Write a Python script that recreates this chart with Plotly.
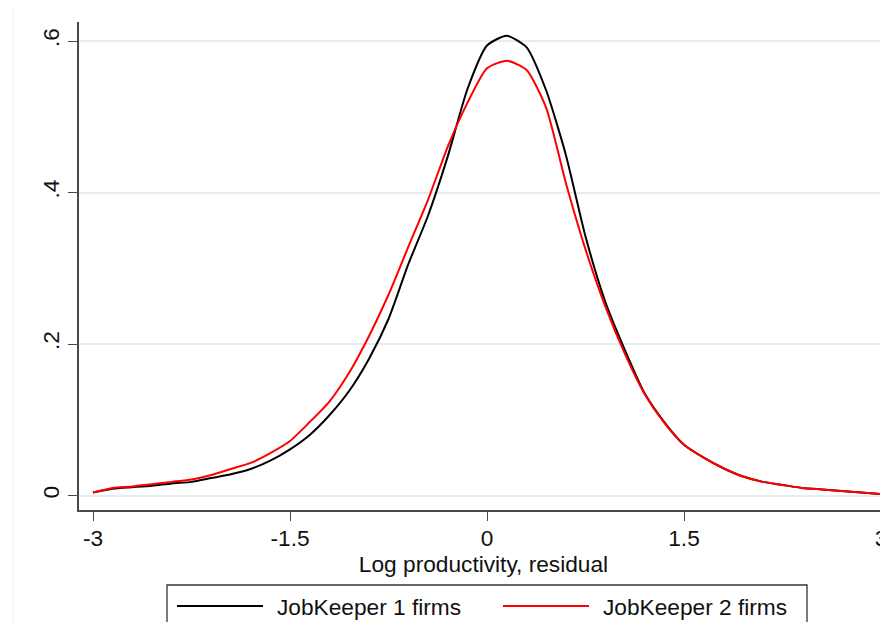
import plotly.graph_objects as go

# ---- data ----
x_grid = [-3.00, -2.85, -2.70, -2.55, -2.40, -2.25, -2.10, -1.95, -1.80, -1.65,
          -1.50, -1.35, -1.20, -1.05, -0.90, -0.75, -0.60, -0.45, -0.30, -0.15,
          0.00, 0.15, 0.30, 0.45, 0.60, 0.75, 0.90, 1.05, 1.20, 1.35,
          1.50, 1.65, 1.80, 1.95, 2.10, 2.25, 2.40, 2.55, 2.70, 2.85, 3.00]

jk1_density = [0.004, 0.009, 0.011, 0.013, 0.016, 0.018, 0.023, 0.028, 0.035, 0.046,
               0.061, 0.080, 0.106, 0.138, 0.180, 0.233, 0.305, 0.369, 0.447, 0.536,
               0.594, 0.607, 0.592, 0.535, 0.450, 0.342, 0.256, 0.192, 0.135, 0.097,
               0.067, 0.050, 0.036, 0.025, 0.018, 0.014, 0.010, 0.008, 0.006, 0.004, 0.002]

jk2_density = [0.004, 0.010, 0.012, 0.015, 0.018, 0.021, 0.027, 0.035, 0.043, 0.056,
               0.072, 0.097, 0.124, 0.162, 0.210, 0.265, 0.328, 0.390, 0.460, 0.518,
               0.564, 0.574, 0.562, 0.512, 0.413, 0.325, 0.250, 0.187, 0.134, 0.096,
               0.067, 0.050, 0.036, 0.025, 0.018, 0.014, 0.010, 0.008, 0.006, 0.004, 0.002]

series_names = ["JobKeeper 1 firms", "JobKeeper 2 firms"]
series_colors = ["#000000", "#ff0000"]

x_tickvals = [-3, -1.5, 0, 1.5, 3]
x_ticktext = ["-3", "-1.5", "0", "1.5", "3"]
y_tickvals = [0, 0.2, 0.4, 0.6]
y_ticktext = ["0", ".2", ".4", ".6"]
x_title = "Log productivity, residual"

# ---- layout geometry (screen pixels; page body has an 8px margin) ----
W, H = 888, 622
OFF = 8
L, R, T, B = 79 - OFF, 888 - OFF, 22 - OFF, 510 - OFF   # plot area edges in figure coords
FONT = "Arial, Liberation Sans, sans-serif"
FS = 22.7


def px_x(p):
    return (p - OFF - L) / (R - L)


def px_y(p):
    return (B - (p - OFF)) / (B - T)


fig = go.Figure()
for name, ys, col in zip(series_names, [jk1_density, jk2_density], series_colors):
    fig.add_trace(go.Scatter(x=x_grid, y=ys, mode="lines", name=name,
                             line=dict(color=col, width=2, shape="spline", smoothing=0.6),
                             showlegend=False))

axis_col = "#4a4a4a"
grid_col = "#e6edf1"
txt_col = "#111111"

fig.update_layout(
    width=W, height=H,
    margin=dict(l=L, r=W - R, t=T, b=H - B, autoexpand=False),
    paper_bgcolor="white", plot_bgcolor="white",
    font=dict(family=FONT, size=FS, color=txt_col),
    showlegend=False,
    xaxis=dict(range=[-3.1066, 3.0533], tickvals=x_tickvals, ticktext=x_ticktext,
               showgrid=False, zeroline=False, showline=True, linecolor=axis_col, linewidth=1.5,
               ticks="outside", ticklen=9, tickwidth=1.3, tickcolor=axis_col,
               tickfont=dict(size=FS, family=FONT, color=txt_col), ticklabelstandoff=-2,
               title=dict(text=x_title, font=dict(size=FS, family=FONT, color=txt_col), standoff=1)),
    yaxis=dict(range=[-0.01914, 0.6251], tickvals=y_tickvals, ticktext=y_ticktext,
               showgrid=True, gridcolor=grid_col, gridwidth=1.5,
               zeroline=False, showline=True, linecolor=axis_col, linewidth=1.5,
               ticks="outside", ticklen=9, tickwidth=1.3, tickcolor=axis_col, tickangle=-90,
               tickfont=dict(size=FS, family=FONT, color=txt_col), ticklabelstandoff=0),
)

shapes = []
annotations = []
# faint outer frame line on the left
shapes.append(dict(type="line", xref="paper", yref="paper", x0=px_x(13), x1=px_x(13),
                   y0=px_y(0), y1=px_y(640), line=dict(color="#eef2f4", width=1.2)))
# legend box (cut by the bottom edge as in the reference)
shapes.append(dict(type="rect", xref="paper", yref="paper", x0=px_x(167), x1=px_x(807),
                   y0=px_y(660), y1=px_y(585), line=dict(color="#333333", width=1.3),
                   fillcolor="rgba(0,0,0,0)"))
leg_y = 607
leg_items = [(177, 263, 277), (503, 589, 603)]
for (lx0, lx1, tx), name, col in zip(leg_items, series_names, series_colors):
    shapes.append(dict(type="line", xref="paper", yref="paper", x0=px_x(lx0), x1=px_x(lx1),
                       y0=px_y(leg_y - 1), y1=px_y(leg_y - 1), line=dict(color=col, width=2)))
    annotations.append(dict(xref="paper", yref="paper", x=px_x(tx), y=px_y(leg_y),
                            text=name, showarrow=False, xanchor="left", yanchor="middle",
                            xshift=-2, font=dict(size=FS, family=FONT, color=txt_col)))
fig.update_layout(shapes=shapes, annotations=annotations)

fig.write_html("out.html")
